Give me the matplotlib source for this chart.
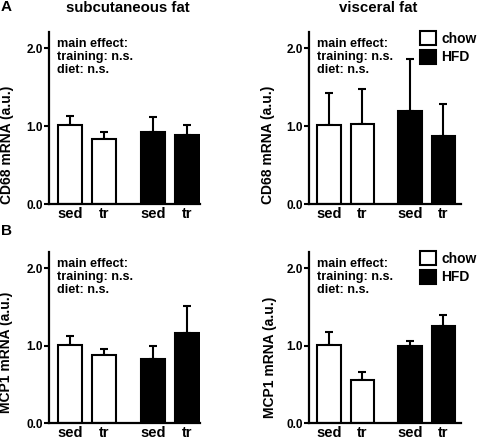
import matplotlib
matplotlib.use("Agg")
import matplotlib.pyplot as plt
from matplotlib.patches import Patch
import numpy as np

plt.rcParams['font.family'] = ['Liberation Sans', 'DejaVu Sans']
plt.rcParams['font.weight'] = 'bold'

groups = ["sed", "tr", "sed", "tr"]
diet = ["chow", "chow", "HFD", "HFD"]

cd68_subcut_mean = [1.02, 0.83, 0.92, 0.89]
cd68_subcut_err = [0.11, 0.10, 0.20, 0.12]
cd68_visc_mean = [1.01, 1.03, 1.19, 0.87]
cd68_visc_err = [0.41, 0.45, 0.67, 0.42]
mcp1_subcut_mean = [1.01, 0.88, 0.83, 1.16]
mcp1_subcut_err = [0.11, 0.08, 0.16, 0.35]
mcp1_visc_mean = [1.01, 0.55, 0.99, 1.25]
mcp1_visc_err = [0.17, 0.11, 0.07, 0.14]

yticks = [0.0, 1.0, 2.0]
ytick_labels = ["0.0", "1.0", "2.0"]
stat_text = "main effect:\ntraining: n.s.\ndiet: n.s."

W, H = 480, 441
fig = plt.figure(figsize=(W / 100, H / 100), dpi=100)

def px_axes(x0, y0, x1, y1):
    return fig.add_axes([x0 / W, 1 - y1 / H, (x1 - x0) / W, (y1 - y0) / H])

positions = np.array([0, 1, 2.42, 3.42])
colors = {"chow": "white", "HFD": "black"}

def panel(ax, means, errs, xmin, xmax):
    fc = [colors[d] for d in diet]
    ax.bar(positions, means, width=0.7, color=fc, edgecolor="black", linewidth=1.5, zorder=2)
    yerr = [np.zeros(len(errs)), errs]
    ax.errorbar(positions, means, yerr=yerr, fmt="none", ecolor="black", elinewidth=1.5,
                capsize=2.9, capthick=1.5, zorder=1)
    ax.set_xlim(xmin, xmax)
    ax.set_ylim(0, 2.21)
    ax.set_yticks(yticks)
    ax.set_yticklabels(ytick_labels, fontsize=8.5, fontweight="bold")
    ax.set_xticks(positions)
    ax.set_xticklabels(groups, fontsize=10.5, fontweight="bold")
    ax.tick_params(axis="x", length=0, pad=2)
    ax.tick_params(axis="y", length=3.5, width=1.5, pad=0.8, direction="out")
    for s in ["top", "right"]:
        ax.spines[s].set_visible(False)
    for s in ["left", "bottom"]:
        ax.spines[s].set_linewidth(1.6)
    ax.text(0.055, 1 - 6 / 172, stat_text, transform=ax.transAxes, va="top", ha="left",
            fontsize=9.1, fontweight="bold", linespacing=1.12)

axA1 = px_axes(49, 32, 200, 204)
axA2 = px_axes(309, 32, 461, 204)
axB1 = px_axes(49, 252, 200, 423)
axB2 = px_axes(309, 252, 461, 423)

panel(axA1, cd68_subcut_mean, cd68_subcut_err, -0.62, 3.8)
panel(axA2, cd68_visc_mean, cd68_visc_err, -0.6, 3.95)
panel(axB1, mcp1_subcut_mean, mcp1_subcut_err, -0.62, 3.8)
panel(axB2, mcp1_visc_mean, mcp1_visc_err, -0.6, 3.95)

handles = [Patch(facecolor="white", edgecolor="black", linewidth=1.5, label="chow"),
           Patch(facecolor="black", edgecolor="black", linewidth=1.5, label="HFD")]
for ytop in (32, 252):
    fig.legend(handles=handles, loc="upper left", bbox_to_anchor=(420 / W, 1 - (ytop - 1) / H),
               frameon=False, borderpad=0, borderaxespad=0,
               handlelength=1.15, handleheight=1.15, labelspacing=0.3, handletextpad=0.4,
               prop={"weight": "bold", "size": 10})

fig.text(128 / W, 1 - 8 / H, "subcutaneous fat", ha="center", va="center", fontsize=10.8, fontweight="bold")
fig.text(378 / W, 1 - 8 / H, "visceral fat", ha="center", va="center", fontsize=10.8, fontweight="bold")
fig.text(1 / W, 1 - 7 / H, "A", ha="left", va="center", fontsize=11, fontweight="bold")
fig.text(1 / W, 1 - 231 / H, "B", ha="left", va="center", fontsize=11, fontweight="bold")

fig.text(7 / W, 1 - 145 / H, "CD68 mRNA (a.u.)", rotation=90, ha="center", va="center", fontsize=10, fontweight="bold")
fig.text(268 / W, 1 - 145 / H, "CD68 mRNA (a.u.)", rotation=90, ha="center", va="center", fontsize=10, fontweight="bold")
fig.text(6 / W, 1 - 352 / H, "MCP1 mRNA (a.u.)", rotation=90, ha="center", va="center", fontsize=10, fontweight="bold")
fig.text(270 / W, 1 - 357 / H, "MCP1 mRNA (a.u.)", rotation=90, ha="center", va="center", fontsize=10, fontweight="bold")

fig.savefig("out.png", dpi=100)
